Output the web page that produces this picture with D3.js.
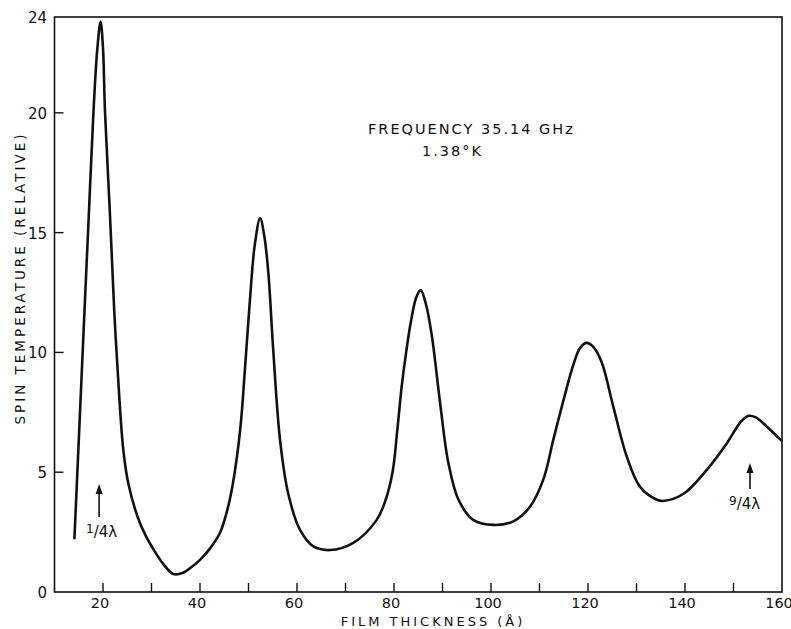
<!DOCTYPE html>
<html>
<head>
<meta charset="utf-8">
<script src="https://cdn.jsdelivr.net/npm/d3@7"></script>
<style>
  body { margin: 0; background: #fff; }
  svg text { font-family: "DejaVu Sans", sans-serif; fill: #111; }
</style>
</head>
<body>
<svg width="791" height="629"></svg>
<script>
"use strict";

// film thickness (A) vs spin temperature (relative)
const thickness = [14.1, 15.0, 16.0, 17.0, 18.0, 18.8, 19.5, 20.0, 20.4, 21.4, 22.3, 23.4, 24.2, 25.2, 27.2, 28.8, 30.5, 32.5, 34.5,
  36.5, 38.0, 40.0, 42.0, 44.1, 45.6, 46.8, 48.3, 49.3, 50.3, 51.3, 52.4, 53.3, 54.1, 55.1, 56.5, 58.2, 60.6, 63.4, 66.8,
  71.6, 76.4, 78.2, 79.7, 80.7, 81.6, 82.5, 83.5, 84.6, 85.5, 86.6, 87.8, 89.5, 91.2, 93.3, 96.4, 100.5, 104.6, 108.0,
  110.8, 112.9, 115.2, 117.0, 118.4, 119.7, 121.0, 122.8, 125.2, 128.0, 130.7, 134.2, 135.5, 139.7,
  144.5, 148.6, 151.5, 153.0, 154.5, 156.9, 160.0];
const spinTemp = [2.2, 6.3, 10.9, 15.4, 19.9, 22.6, 23.8, 22.7, 20.1, 15.9, 11.8, 8.0, 5.9, 4.55, 3.1, 2.35, 1.75, 1.15, 0.75,
  0.8, 1.0, 1.34, 1.8, 2.46, 3.4, 4.55, 6.8, 9.4, 12.2, 14.5, 15.6, 14.8, 13.3, 10.1, 6.35, 4.1, 2.6, 1.9, 1.75,
  2.05, 3.0, 3.8, 5.0, 6.8, 8.6, 10.0, 11.3, 12.3, 12.6, 12.0, 10.7, 7.9, 5.4, 3.85, 3.0, 2.8, 2.95, 3.55,
  4.7, 6.4, 8.2, 9.5, 10.2, 10.4, 10.25, 9.6, 7.75, 5.65, 4.4, 3.85, 3.8, 4.1,
  5.1, 6.2, 7.1, 7.35, 7.3, 6.9, 6.3];

const xTicks = [20, 30, 40, 50, 60, 70, 80, 90, 100, 110, 120, 130, 140, 150];
const xLabels = [20, 40, 60, 80, 100, 120, 140, 160];
const yTicks = [0, 5, 10, 15, 20];
const yLabels = [0, 5, 10, 15, 20, 24];

const svg = d3.select("svg");
const x = d3.scaleLinear().domain([10, 160]).range([54.5, 782]);
const y = d3.scaleLinear().domain([0, 24]).range([592, 17]);

/////////////////////////////////////////////////////
// frame and inward ticks
/////////////////////////////////////////////////////
svg.append("rect")
  .attr("x", x(10)).attr("y", y(24))
  .attr("width", x(160) - x(10)).attr("height", y(0) - y(24))
  .attr("fill", "none").attr("stroke", "#111").attr("stroke-width", 1.6);

svg.append("g").selectAll("line").data(xTicks).enter().append("line")
  .attr("x1", d => x(d)).attr("x2", d => x(d))
  .attr("y1", y(0)).attr("y2", y(0) - 9)
  .attr("stroke", "#111").attr("stroke-width", 1.4);

svg.append("g").selectAll("line").data(yTicks.slice(1)).enter().append("line")
  .attr("x1", x(10)).attr("x2", x(10) + 9)
  .attr("y1", d => y(d)).attr("y2", d => y(d))
  .attr("stroke", "#111").attr("stroke-width", 1.4);

svg.append("g").selectAll("text").data(xLabels).enter().append("text")
  .attr("x", d => x(d) - 3).attr("y", 608)
  .attr("text-anchor", "middle").attr("font-size", 14.5)
  .text(d => d);

svg.append("g").selectAll("text").data(yLabels).enter().append("text")
  .attr("x", 47).attr("y", d => y(d) + 6)
  .attr("text-anchor", "end").attr("font-size", 15)
  .text(d => d);

/////////////////////////////////////////////////////
// axis titles and notes
/////////////////////////////////////////////////////
svg.append("text")
  .attr("x", 433).attr("y", 626)
  .attr("text-anchor", "middle").attr("font-size", 13)
  .attr("letter-spacing", 3)
  .text("FILM THICKNESS (Å)");

svg.append("text")
  .attr("transform", "translate(25,278) rotate(-90)")
  .attr("text-anchor", "middle").attr("font-size", 13.5)
  .attr("letter-spacing", 3)
  .text("SPIN TEMPERATURE (RELATIVE)");

svg.append("text")
  .attr("x", 368).attr("y", 134).attr("font-size", 14.5)
  .attr("letter-spacing", 2)
  .text("FREQUENCY 35.14 GHz");

svg.append("text")
  .attr("x", 422).attr("y", 156).attr("font-size", 14.5)
  .attr("letter-spacing", 2)
  .text("1.38°K");

// wavelength markers with arrows
const markers = [
  { v: 19.2, num: "1", den: "4λ", top: 484, bottom: 517, tx: 86, ty: 537 },
  { v: 153.4, num: "9", den: "4λ", top: 463, bottom: 489, tx: 729, ty: 509 }
];
markers.forEach(m => {
  const g = svg.append("g");
  g.append("line")
    .attr("x1", x(m.v)).attr("x2", x(m.v))
    .attr("y1", m.top + 8).attr("y2", m.bottom)
    .attr("stroke", "#111").attr("stroke-width", 1.6);
  g.append("path")
    .attr("d", `M${x(m.v)},${m.top} l-3.5,10 l7,0 z`)
    .attr("fill", "#111");
  const t = g.append("text").attr("x", m.tx).attr("y", m.ty).attr("font-size", 15);
  t.append("tspan").attr("dy", -4).attr("font-size", 12).text(m.num);
  t.append("tspan").attr("dy", 4).text("/" + m.den);
});

/////////////////////////////////////////////////////
// the curve
/////////////////////////////////////////////////////
const line = d3.line()
  .x((d, i) => x(thickness[i]))
  .y(d => y(d))
  .curve(d3.curveCatmullRom.alpha(0.5));

svg.append("path")
  .datum(spinTemp)
  .attr("d", line)
  .attr("fill", "none")
  .attr("stroke", "#111")
  .attr("stroke-width", 2.6)
  .attr("stroke-linejoin", "round");
</script>
</body>
</html>
